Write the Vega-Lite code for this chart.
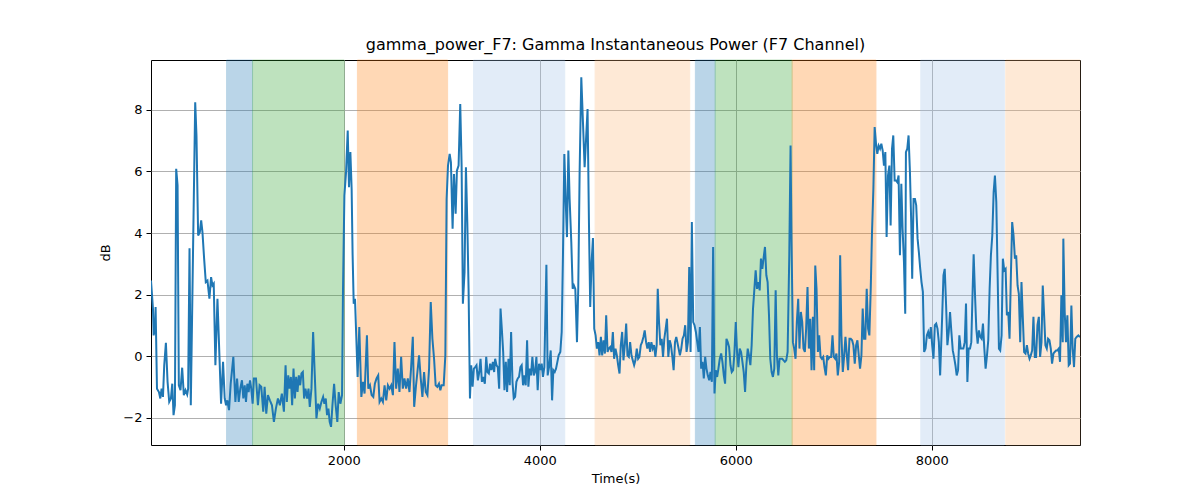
{
  "$schema": "https://vega.github.io/schema/vega-lite/v6.json",
  "autosize": "none",
  "width": 929,
  "height": 385,
  "padding": {"left": 151, "top": 60, "right": 120, "bottom": 55},
  "background": "white",
  "config": {
    "font": "DejaVu Sans",
    "view": {"stroke": "black", "strokeWidth": 1},
    "axis": {
      "grid": true, "gridColor": "#b0b0b0", "gridWidth": 1, "gridOpacity": 1,
      "domain": false, "ticks": true, "tickColor": "black", "tickSize": 5, "tickWidth": 1,
      "labelFont": "DejaVu Sans", "labelFontSize": 13, "labelColor": "black", "labelPadding": 4,
      "titleFont": "DejaVu Sans", "titleFontSize": 13, "titleFontWeight": "normal", "titleColor": "black"
    }
  },
  "title": {"text": "gamma_power_F7: Gamma Instantaneous Power (F7 Channel)", "font": "DejaVu Sans", "fontSize": 16, "fontWeight": "normal", "color": "black", "offset": 7},
  "datasets": {
    "bands": [
      {"start": 805, "end": 1070, "kind": "A"},
      {"start": 1070, "end": 2005, "kind": "B"},
      {"start": 2140, "end": 3060, "kind": "C"},
      {"start": 3325, "end": 4255, "kind": "D"},
      {"start": 4565, "end": 5530, "kind": "E"},
      {"start": 5588, "end": 5790, "kind": "A"},
      {"start": 5790, "end": 6575, "kind": "B"},
      {"start": 6575, "end": 7430, "kind": "C"},
      {"start": 7888, "end": 8740, "kind": "D"},
      {"start": 8755, "end": 9512, "kind": "E"}
    ],
    "series": [
      {"t":34,"v":2.46},{"t":54,"v":1.55},{"t":61,"v":0.68},{"t":74,"v":0.9},{"t":81,"v":1.6},{"t":95,"v":-1.05},{"t":115,"v":-1.16},{"t":129,"v":-1.37},{"t":142,"v":-1.05},{"t":156,"v":-1.32},{"t":169,"v":-0.29},{"t":186,"v":0.44},{"t":203,"v":-0.83},{"t":220,"v":-1.48},{"t":237,"v":-1.37},{"t":251,"v":-0.89},{"t":264,"v":-1.91},{"t":278,"v":-1.59},{"t":291,"v":6.09},{"t":305,"v":5.55},{"t":318,"v":-0.94},{"t":335,"v":-1.1},{"t":352,"v":-0.37},{"t":369,"v":-1.26},{"t":386,"v":-1.1},{"t":403,"v":-1.24},{"t":413,"v":-1.05},{"t":427,"v":3.51},{"t":440,"v":-1.59},{"t":485,"v":8.25},{"t":498,"v":7.17},{"t":515,"v":3.92},{"t":532,"v":4.03},{"t":546,"v":4.41},{"t":559,"v":4.03},{"t":576,"v":3.17},{"t":593,"v":2.41},{"t":610,"v":2.46},{"t":630,"v":1.87},{"t":647,"v":2.57},{"t":661,"v":2.3},{"t":674,"v":2.36},{"t":691,"v":-0.29},{"t":712,"v":1.87},{"t":732,"v":0.03},{"t":749,"v":-1.54},{"t":769,"v":-0.18},{"t":786,"v":-1.37},{"t":800,"v":-1.59},{"t":813,"v":-1.43},{"t":830,"v":-1.75},{"t":847,"v":-0.89},{"t":874,"v":-0.02},{"t":895,"v":-1.48},{"t":912,"v":-0.72},{"t":929,"v":-1.48},{"t":945,"v":-1.05},{"t":962,"v":-0.78},{"t":976,"v":-1.37},{"t":990,"v":-0.94},{"t":1003,"v":-1.48},{"t":1017,"v":-0.89},{"t":1030,"v":-1.16},{"t":1044,"v":-0.78},{"t":1057,"v":-1.05},{"t":1071,"v":-1.54},{"t":1084,"v":-0.72},{"t":1105,"v":-0.72},{"t":1125,"v":-1.59},{"t":1142,"v":-0.94},{"t":1159,"v":-0.99},{"t":1179,"v":-1.8},{"t":1193,"v":-0.99},{"t":1210,"v":-1.86},{"t":1227,"v":-1.26},{"t":1247,"v":-1.43},{"t":1268,"v":-1.59},{"t":1288,"v":-2.13},{"t":1308,"v":-1.7},{"t":1329,"v":-1.37},{"t":1349,"v":-1.59},{"t":1369,"v":-1.21},
      {"t":1390,"v":-1.8},{"t":1407,"v":-0.29},{"t":1420,"v":-1.48},{"t":1434,"v":-0.62},{"t":1447,"v":-1.05},{"t":1461,"v":-0.67},{"t":1474,"v":-1.59},{"t":1488,"v":-0.4},{"t":1502,"v":-1.37},{"t":1515,"v":-0.67},{"t":1529,"v":-1.16},{"t":1542,"v":-0.62},{"t":1556,"v":-0.94},{"t":1569,"v":-0.56},{"t":1583,"v":-0.51},{"t":1596,"v":-1.37},{"t":1610,"v":-1.05},{"t":1627,"v":-1.37},{"t":1641,"v":-1.05},{"t":1654,"v":-1.64},{"t":1671,"v":-1.05},{"t":1688,"v":0.79},{"t":1705,"v":-0.62},{"t":1722,"v":-2.02},{"t":1739,"v":-1.54},{"t":1756,"v":-1.7},{"t":1773,"v":-1.48},{"t":1790,"v":-1.32},{"t":1803,"v":-1.54},{"t":1817,"v":-1.37},{"t":1830,"v":-1.91},{"t":1844,"v":-1.7},{"t":1857,"v":-2.13},{"t":1871,"v":-2.29},{"t":1885,"v":-1.59},{"t":1902,"v":-0.89},{"t":1918,"v":-1.59},{"t":1935,"v":-2.13},{"t":1949,"v":-1.16},{"t":1966,"v":-1.54},{"t":1983,"v":-1.26},{"t":1993,"v":2.19},{"t":2007,"v":5.22},{"t":2024,"v":5.98},{"t":2041,"v":7.33},{"t":2054,"v":5.49},{"t":2068,"v":6.63},{"t":2081,"v":5.44},{"t":2091,"v":3.28},{"t":2102,"v":1.71},{"t":2115,"v":1.87},{"t":2129,"v":0.57},{"t":2142,"v":-0.67},{"t":2159,"v":0.95},{"t":2180,"v":-1.32},{"t":2197,"v":-0.83},{"t":2213,"v":-1.21},{"t":2237,"v":0.68},{"t":2251,"v":-1.05},{"t":2268,"v":-0.94},{"t":2285,"v":-1.26},{"t":2302,"v":-1.32},{"t":2318,"v":-0.89},{"t":2335,"v":-0.72},{"t":2352,"v":-0.62},{"t":2366,"v":-1.48},{"t":2383,"v":-1.37},{"t":2400,"v":-1.48},{"t":2417,"v":-0.94},{"t":2434,"v":-1.43},{"t":2451,"v":-0.94},{"t":2468,"v":-1.05},{"t":2485,"v":-0.94},{"t":2502,"v":-1.26},{"t":2518,"v":0.46},{"t":2535,"v":-1.05},{"t":2552,"v":-0.4},{"t":2569,"v":-1.16},{"t":2586,"v":-0.02},{"t":2603,"v":-1.05},{"t":2620,"v":-0.72},{"t":2637,"v":-1.05},{"t":2654,"v":-0.72},{"t":2671,"v":-1.16},{"t":2688,"v":-0.35},{"t":2705,"v":0.63},{"t":2719,"v":-1.64},
      {"t":2738,"v":-0.94},{"t":2752,"v":-0.51},{"t":2769,"v":0.03},{"t":2786,"v":-0.72},{"t":2803,"v":-1.32},{"t":2820,"v":-0.51},{"t":2837,"v":-1.16},{"t":2854,"v":-1.26},{"t":2871,"v":-0.4},{"t":2888,"v":1.76},{"t":2905,"v":0.57},{"t":2922,"v":-0.08},{"t":2938,"v":-0.94},{"t":2955,"v":-0.99},{"t":2972,"v":-0.89},{"t":2986,"v":-1.1},{"t":2999,"v":-0.94},{"t":3020,"v":-0.94},{"t":3037,"v":0.03},{"t":3050,"v":5.11},{"t":3064,"v":6.19},{"t":3081,"v":6.57},{"t":3094,"v":6.3},{"t":3111,"v":4.14},{"t":3125,"v":5.92},{"t":3142,"v":4.63},{"t":3155,"v":6.03},{"t":3172,"v":6.19},{"t":3189,"v":8.19},{"t":3203,"v":6.19},{"t":3216,"v":1.71},{"t":3233,"v":2.74},{"t":3247,"v":6.14},{"t":3261,"v":4.36},{"t":3274,"v":2.19},{"t":3288,"v":-1.37},{"t":3301,"v":-0.29},{"t":3315,"v":-0.99},{"t":3328,"v":-0.4},{"t":3342,"v":-0.35},{"t":3355,"v":-0.29},{"t":3369,"v":-0.78},{"t":3383,"v":-0.51},{"t":3396,"v":-0.08},{"t":3410,"v":-0.83},{"t":3423,"v":-0.67},{"t":3440,"v":-0.89},{"t":3454,"v":-0.02},{"t":3467,"v":-0.51},{"t":3481,"v":-0.56},{"t":3494,"v":-0.24},{"t":3508,"v":-0.45},{"t":3522,"v":-0.18},{"t":3535,"v":-0.51},{"t":3545,"v":-0.08},{"t":3559,"v":-0.29},{"t":3572,"v":-0.35},{"t":3586,"v":-1.05},{"t":3600,"v":1.55},{"t":3613,"v":0.9},{"t":3627,"v":0.14},{"t":3640,"v":-1.1},{"t":3654,"v":-0.18},{"t":3667,"v":-1.16},{"t":3681,"v":-0.08},{"t":3694,"v":-0.94},{"t":3708,"v":0.79},{"t":3722,"v":-0.83},{"t":3735,"v":-1.37},{"t":3749,"v":-1.32},{"t":3762,"v":-0.83},{"t":3776,"v":-0.72},{"t":3789,"v":-0.67},{"t":3803,"v":-0.35},{"t":3816,"v":-0.29},{"t":3830,"v":-0.94},{"t":3844,"v":-0.62},{"t":3857,"v":-0.94},{"t":3871,"v":0.52},{"t":3884,"v":-0.99},{"t":3898,"v":-0.4},{"t":3911,"v":-0.62},{"t":3925,"v":-0.02},{"t":3939,"v":-0.62},{"t":3952,"v":-0.51},{"t":3966,"v":-0.02},{"t":3979,"v":-1.1},{"t":3993,"v":-0.24},{"t":4006,"v":-0.45},{"t":4020,"v":-0.24},{"t":4033,"v":-0.67},{"t":4047,"v":-0.35},
      {"t":4068,"v":2.97},{"t":4081,"v":-0.62},{"t":4095,"v":-0.35},{"t":4112,"v":0.19},{"t":4126,"v":-1.43},{"t":4139,"v":-0.45},{"t":4153,"v":-0.51},{"t":4166,"v":-0.4},{"t":4180,"v":-0.18},{"t":4193,"v":0.03},{"t":4210,"v":0.14},{"t":4224,"v":0.79},{"t":4237,"v":3.28},{"t":4251,"v":6.57},{"t":4265,"v":5.01},{"t":4278,"v":3.87},{"t":4292,"v":6.68},{"t":4305,"v":5.11},{"t":4322,"v":3.71},{"t":4336,"v":2.19},{"t":4349,"v":2.3},{"t":4363,"v":2.19},{"t":4380,"v":0.46},{"t":4393,"v":2.19},{"t":4407,"v":5.98},{"t":4424,"v":9.06},{"t":4441,"v":7.6},{"t":4458,"v":6.14},{"t":4471,"v":6.95},{"t":4488,"v":8.03},{"t":4502,"v":4.36},{"t":4515,"v":1.6},{"t":4529,"v":3.06},{"t":4543,"v":3.84},{"t":4556,"v":0.9},{"t":4570,"v":0.68},{"t":4583,"v":0.25},{"t":4597,"v":0.46},{"t":4610,"v":0.03},{"t":4624,"v":0.63},{"t":4637,"v":0.03},{"t":4651,"v":0.52},{"t":4665,"v":0.09},{"t":4678,"v":1.33},{"t":4692,"v":0.14},{"t":4705,"v":0.25},{"t":4719,"v":0.3},{"t":4732,"v":0.14},{"t":4746,"v":0.79},{"t":4759,"v":-0.08},{"t":4773,"v":0.25},{"t":4787,"v":0.03},{"t":4800,"v":-0.29},{"t":4814,"v":-0.56},{"t":4827,"v":0.36},{"t":4841,"v":0.79},{"t":4854,"v":-0.13},{"t":4868,"v":0.36},{"t":4882,"v":1.06},{"t":4895,"v":0.03},{"t":4909,"v":-0.02},{"t":4922,"v":0.46},{"t":4936,"v":0.03},{"t":4949,"v":-0.13},{"t":4963,"v":-0.29},{"t":4976,"v":-0.13},{"t":4990,"v":0.25},{"t":5004,"v":-0.08},{"t":5017,"v":-0.02},{"t":5031,"v":0.36},{"t":5044,"v":0.46},{"t":5058,"v":0.63},{"t":5071,"v":0.84},{"t":5085,"v":0.46},{"t":5098,"v":0.25},{"t":5112,"v":0.46},{"t":5126,"v":0.14},{"t":5139,"v":0.46},{"t":5153,"v":0.25},{"t":5166,"v":0.36},{"t":5180,"v":-0.02},{"t":5193,"v":0.36},{"t":5204,"v":2.19},{"t":5217,"v":1.11},{"t":5231,"v":0.36},{"t":5244,"v":0.57},{"t":5258,"v":-0.02},{"t":5271,"v":0.57},{"t":5285,"v":0.9},{"t":5298,"v":1.22},{"t":5312,"v":-0.02},{"t":5326,"v":0.52},{"t":5339,"v":0.36},{"t":5353,"v":-0.02},{"t":5366,"v":-0.45},{"t":5380,"v":0.46},{"t":5393,"v":0.63},
      {"t":5417,"v":0.25},{"t":5430,"v":0.03},{"t":5444,"v":0.25},{"t":5457,"v":0.57},{"t":5471,"v":0.68},{"t":5484,"v":1.01},{"t":5498,"v":0.14},{"t":5512,"v":0.46},{"t":5525,"v":2.9},{"t":5539,"v":0.14},{"t":5552,"v":4.36},{"t":5566,"v":1.11},{"t":5579,"v":1.01},{"t":5593,"v":0.79},{"t":5607,"v":0.46},{"t":5620,"v":0.14},{"t":5634,"v":0.95},{"t":5647,"v":-0.4},{"t":5661,"v":-0.18},{"t":5674,"v":-0.72},{"t":5688,"v":-0.02},{"t":5701,"v":-0.4},{"t":5715,"v":-0.62},{"t":5729,"v":-0.78},{"t":5742,"v":-0.51},{"t":5756,"v":-0.83},{"t":5769,"v":3.55},{"t":5783,"v":-1.21},{"t":5796,"v":-0.45},{"t":5810,"v":-0.67},{"t":5823,"v":-0.4},{"t":5837,"v":-0.08},{"t":5851,"v":0.09},{"t":5864,"v":-0.18},{"t":5878,"v":-0.62},{"t":5891,"v":-0.89},{"t":5905,"v":0.57},{"t":5918,"v":0.46},{"t":5932,"v":0.3},{"t":5946,"v":-0.29},{"t":5959,"v":-0.51},{"t":5973,"v":-0.45},{"t":5986,"v":0.09},{"t":6000,"v":1.11},{"t":6013,"v":0.14},{"t":6027,"v":-0.35},{"t":6040,"v":0.25},{"t":6054,"v":0.14},{"t":6068,"v":-0.18},{"t":6081,"v":-0.51},{"t":6095,"v":-1.16},{"t":6108,"v":-0.29},{"t":6122,"v":0.25},{"t":6135,"v":0.03},{"t":6149,"v":-0.29},{"t":6162,"v":0.36},{"t":6176,"v":1.55},{"t":6190,"v":2.19},{"t":6203,"v":2.79},{"t":6217,"v":2.19},{"t":6230,"v":2.41},{"t":6244,"v":2.14},{"t":6257,"v":3.17},{"t":6271,"v":2.84},{"t":6285,"v":3.22},{"t":6298,"v":3.55},{"t":6312,"v":2.63},{"t":6325,"v":2.41},{"t":6339,"v":1.33},{"t":6352,"v":-0.08},{"t":6366,"v":-0.51},{"t":6379,"v":-0.67},{"t":6393,"v":-0.4},{"t":6407,"v":2.14},{"t":6420,"v":0.03},{"t":6434,"v":-0.62},{"t":6447,"v":-0.08},{"t":6461,"v":-0.08},{"t":6474,"v":-0.08},{"t":6488,"v":-0.13},{"t":6501,"v":-0.18},{"t":6515,"v":-0.13},{"t":6529,"v":0.14},{"t":6546,"v":3.28},{"t":6559,"v":6.84},{"t":6569,"v":3.71},{"t":6583,"v":0.46},{"t":6596,"v":0.25},{"t":6610,"v":-0.08},{"t":6623,"v":1.11},{"t":6637,"v":1.87},{"t":6650,"v":0.25},{"t":6664,"v":1.44},{"t":6678,"v":1.11},{"t":6691,"v":0.25},{"t":6705,"v":0.14},{"t":6718,"v":0.9},{"t":6732,"v":2.25},
      {"t":6746,"v":0.25},{"t":6760,"v":1.22},{"t":6773,"v":-0.45},{"t":6787,"v":1.28},{"t":6800,"v":-0.45},{"t":6811,"v":2.95},{"t":6824,"v":2.19},{"t":6838,"v":0.14},{"t":6851,"v":0.68},{"t":6865,"v":-0.02},{"t":6878,"v":-0.08},{"t":6892,"v":-0.02},{"t":6905,"v":-0.35},{"t":6919,"v":-0.62},{"t":6933,"v":0.03},{"t":6946,"v":-0.08},{"t":6960,"v":-0.02},{"t":6973,"v":-0.02},{"t":6987,"v":0.68},{"t":7000,"v":-0.02},{"t":7014,"v":-0.08},{"t":7027,"v":0.09},{"t":7041,"v":-0.62},{"t":7055,"v":-0.18},{"t":7065,"v":3.28},{"t":7078,"v":0.68},{"t":7092,"v":-0.51},{"t":7105,"v":-0.02},{"t":7119,"v":0.63},{"t":7133,"v":0.03},{"t":7146,"v":-0.45},{"t":7160,"v":0.57},{"t":7173,"v":0.57},{"t":7187,"v":0.52},{"t":7200,"v":0.36},{"t":7214,"v":-0.24},{"t":7228,"v":0.36},{"t":7241,"v":0.52},{"t":7255,"v":0.03},{"t":7268,"v":-0.4},{"t":7282,"v":0.03},{"t":7295,"v":1.55},{"t":7309,"v":0.57},{"t":7322,"v":0.57},{"t":7336,"v":2.19},{"t":7350,"v":0.9},{"t":7363,"v":0.68},{"t":7377,"v":2.19},{"t":7390,"v":4.03},{"t":7404,"v":5.44},{"t":7417,"v":7.44},{"t":7431,"v":6.9},{"t":7444,"v":6.57},{"t":7458,"v":6.84},{"t":7472,"v":6.74},{"t":7485,"v":6.9},{"t":7499,"v":6.68},{"t":7512,"v":6.19},{"t":7526,"v":6.63},{"t":7539,"v":3.87},{"t":7553,"v":5.87},{"t":7567,"v":6.19},{"t":7580,"v":4.25},{"t":7594,"v":6.74},{"t":7607,"v":7.17},{"t":7621,"v":5.71},{"t":7634,"v":5.71},{"t":7648,"v":5.65},{"t":7661,"v":5.87},{"t":7675,"v":3.28},{"t":7689,"v":5.6},{"t":7702,"v":4.14},{"t":7716,"v":3.06},{"t":7729,"v":1.38},{"t":7736,"v":6.63},{"t":7750,"v":6.74},{"t":7763,"v":7.17},{"t":7777,"v":5.98},{"t":7790,"v":4.36},{"t":7800,"v":2.52},{"t":7814,"v":5.11},{"t":7828,"v":5.11},{"t":7841,"v":4.9},{"t":7855,"v":3.82},{"t":7868,"v":3.38},{"t":7882,"v":2.84},{"t":7895,"v":2.41},{"t":7909,"v":2.09},{"t":7922,"v":0.14},{"t":7936,"v":0.25},{"t":7950,"v":0.68},{"t":7963,"v":0.79},{"t":7977,"v":0.57},{"t":7990,"v":0.95},{"t":8004,"v":0.36},{"t":8017,"v":-0.08},{"t":8031,"v":1.01},{"t":8045,"v":1.06},{"t":8058,"v":0.9},{"t":8072,"v":0.46},{"t":8085,"v":-0.62},
      {"t":8105,"v":1.22},{"t":8119,"v":2.63},{"t":8132,"v":2.84},{"t":8146,"v":1.65},{"t":8159,"v":0.36},{"t":8173,"v":0.79},{"t":8186,"v":1.44},{"t":8200,"v":0.79},{"t":8214,"v":0.19},{"t":8227,"v":-0.02},{"t":8241,"v":-0.29},{"t":8254,"v":-0.62},{"t":8268,"v":-0.45},{"t":8281,"v":0.68},{"t":8295,"v":0.25},{"t":8308,"v":0.25},{"t":8322,"v":0.25},{"t":8336,"v":0.46},{"t":8349,"v":1.71},{"t":8363,"v":-0.83},{"t":8376,"v":0.25},{"t":8390,"v":0.25},{"t":8403,"v":0.46},{"t":8417,"v":2.19},{"t":8427,"v":3.31},{"t":8441,"v":1.98},{"t":8454,"v":0.9},{"t":8468,"v":0.41},{"t":8481,"v":0.84},{"t":8495,"v":0.63},{"t":8508,"v":0.57},{"t":8522,"v":1.06},{"t":8536,"v":0.25},{"t":8549,"v":-0.4},{"t":8563,"v":0.03},{"t":8576,"v":0.52},{"t":8590,"v":2.19},{"t":8603,"v":3.28},{"t":8617,"v":3.92},{"t":8631,"v":5.33},{"t":8644,"v":5.87},{"t":8658,"v":5.01},{"t":8671,"v":2.74},{"t":8685,"v":0.25},{"t":8698,"v":0.19},{"t":8712,"v":0.68},{"t":8725,"v":3.17},{"t":8739,"v":2.79},{"t":8753,"v":2.84},{"t":8766,"v":1.33},{"t":8780,"v":1.44},{"t":8793,"v":0.57},{"t":8807,"v":2.63},{"t":8820,"v":4.36},{"t":8834,"v":3.92},{"t":8848,"v":3.17},{"t":8861,"v":3.28},{"t":8875,"v":2.3},{"t":8888,"v":2.03},{"t":8902,"v":0.46},{"t":8915,"v":2.41},{"t":8929,"v":1.22},{"t":8942,"v":0.14},{"t":8956,"v":0.09},{"t":8970,"v":0.36},{"t":8983,"v":0.09},{"t":8997,"v":-0.08},{"t":9010,"v":0.03},{"t":9024,"v":0.19},{"t":9037,"v":1.28},{"t":9051,"v":-0.02},{"t":9064,"v":-0.02},{"t":9078,"v":1.01},{"t":9092,"v":1.28},{"t":9105,"v":-0.02},{"t":9119,"v":0.46},{"t":9132,"v":2.3},{"t":9146,"v":1.33},{"t":9159,"v":0.36},{"t":9173,"v":0.25},{"t":9186,"v":0.57},{"t":9200,"v":0.52},{"t":9214,"v":0.25},{"t":9227,"v":-0.24},{"t":9241,"v":0.09},{"t":9254,"v":0.14},{"t":9268,"v":0.19},{"t":9281,"v":0.19},{"t":9295,"v":0.25},{"t":9308,"v":-0.18},{"t":9322,"v":1.98},{"t":9336,"v":0.46},{"t":9342,"v":3.82},{"t":9356,"v":1.44},{"t":9369,"v":0.46},{"t":9383,"v":1.33},{"t":9397,"v":-0.29},{"t":9410,"v":-0.24},{"t":9424,"v":1.65},{"t":9437,"v":0.25},{"t":9451,"v":-0.35},{"t":9464,"v":0.57},{"t":9478,"v":0.63},{"t":9495,"v":0.68},{"t":9512,"v":0.62}
    ]
  },
  "layer": [
    {
      "data": {"name": "bands"},
      "mark": {"type": "rect", "strokeWidth": 1, "opacity": 0.3},
      "encoding": {
        "x": {"field": "start", "type": "quantitative", "scale": {"domain": [34, 9512], "nice": false, "zero": false},
              "axis": {"values": [2000, 4000, 6000, 8000], "title": "Time(s)", "titlePadding": 5, "format": "d"}},
        "x2": {"field": "end"},
        "color": {"field": "kind", "type": "nominal", "legend": null,
                  "scale": {"domain": ["A", "B", "C", "D", "E"], "range": ["#1f77b4", "#2ca02c", "#ff7f0e", "#a0c2ea", "#fcb97a"]}},
        "stroke": {"field": "kind", "type": "nominal", "legend": null,
                  "scale": {"domain": ["A", "B", "C", "D", "E"], "range": ["#1f77b4", "#2ca02c", "#ff7f0e", "#a0c2ea", "#fcb97a"]}}
      }
    },
    {
      "data": {"name": "series"},
      "mark": {"type": "line", "color": "#1f77b4", "strokeWidth": 2, "clip": true},
      "encoding": {
        "x": {"field": "t", "type": "quantitative"},
        "y": {"field": "v", "type": "quantitative", "scale": {"domain": [-2.88, 9.62], "nice": false, "zero": false},
              "axis": {"values": [-2, 0, 2, 4, 6, 8], "title": "dB", "titlePadding": 10, "labelExpr": "replace(datum.label, '-', '\u2212')"}}
      }
    }
  ]
}
